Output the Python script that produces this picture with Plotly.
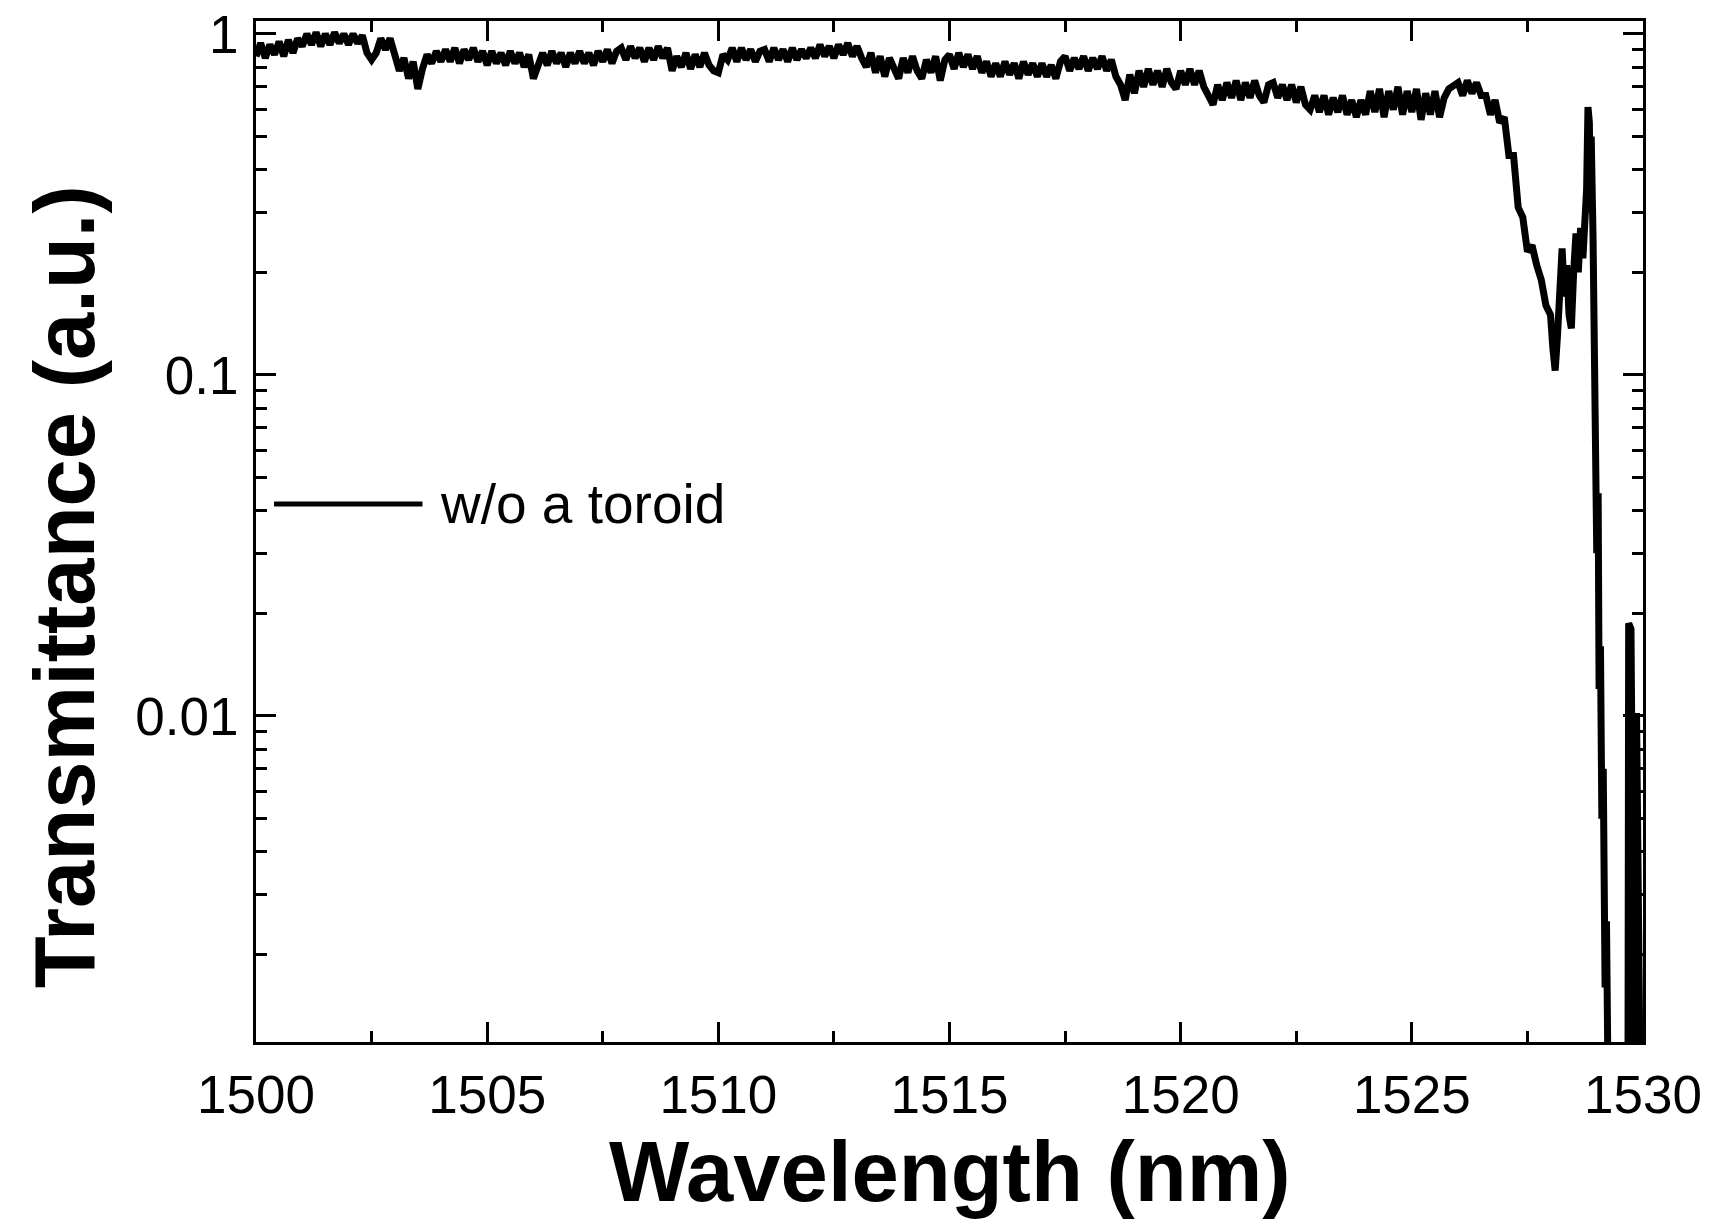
import plotly.graph_objects as go

FONT = "Liberation Sans, Arial, sans-serif"

# Transmittance vs wavelength (w/o a toroid)
wl_start = 1500.0
wl_step = 0.1
t_main = [
    # 1500.0 - 1500.9
    0.86, 0.94, 0.85, 0.93, 0.87, 0.95, 0.86, 0.96, 0.88, 0.97,
    # 1501
    0.92, 1.00, 0.93, 1.01, 0.92, 1.00, 0.93, 1.01, 0.94, 1.00,
    # 1502
    0.93, 1.00, 0.94, 0.99, 0.88, 0.84, 0.88, 0.97, 0.90, 0.97,
    # 1503
    0.87, 0.78, 0.85, 0.74, 0.83, 0.69, 0.79, 0.87, 0.82, 0.89,
    # 1504
    0.83, 0.90, 0.83, 0.91, 0.82, 0.90, 0.84, 0.91, 0.83, 0.89,
    # 1505
    0.81, 0.89, 0.82, 0.88, 0.81, 0.89, 0.82, 0.88, 0.80, 0.87,
    # 1506
    0.74, 0.82, 0.88, 0.81, 0.89, 0.82, 0.88, 0.80, 0.88, 0.82,
    # 1507
    0.89, 0.82, 0.88, 0.81, 0.89, 0.83, 0.90, 0.82, 0.89, 0.91,
    # 1508
    0.84, 0.92, 0.85, 0.91, 0.83, 0.91, 0.84, 0.92, 0.85, 0.91,
    # 1509
    0.78, 0.86, 0.80, 0.88, 0.79, 0.87, 0.80, 0.88, 0.81, 0.78,
    # 1510
    0.77, 0.87, 0.84, 0.91, 0.83, 0.91, 0.84, 0.90, 0.83, 0.89,
    # 1511
    0.90, 0.83, 0.91, 0.84, 0.90, 0.83, 0.91, 0.84, 0.90, 0.85,
    # 1512
    0.91, 0.85, 0.93, 0.86, 0.92, 0.85, 0.93, 0.87, 0.94, 0.86,
    # 1513
    0.92, 0.85, 0.80, 0.88, 0.77, 0.86, 0.75, 0.85, 0.78, 0.74,
    # 1514
    0.85, 0.77, 0.86, 0.78, 0.74, 0.84, 0.77, 0.86, 0.73, 0.84,
    # 1515
    0.87, 0.79, 0.88, 0.80, 0.87, 0.79, 0.86, 0.77, 0.83, 0.75,
    # 1516
    0.82, 0.75, 0.83, 0.76, 0.82, 0.74, 0.83, 0.76, 0.82, 0.75,
    # 1517
    0.82, 0.75, 0.81, 0.74, 0.83, 0.86, 0.78, 0.85, 0.79, 0.86,
    # 1518
    0.78, 0.85, 0.79, 0.86, 0.78, 0.84, 0.75, 0.71, 0.64, 0.76,
    # 1519
    0.67, 0.78, 0.70, 0.79, 0.71, 0.78, 0.70, 0.79, 0.72, 0.69,
    # 1520
    0.78, 0.71, 0.79, 0.71, 0.78, 0.70, 0.66, 0.62, 0.71, 0.64,
    # 1521
    0.72, 0.65, 0.73, 0.64, 0.72, 0.65, 0.73, 0.66, 0.63, 0.71,
    # 1522
    0.72, 0.65, 0.71, 0.64, 0.71, 0.63, 0.70, 0.62, 0.60, 0.66,
    # 1523
    0.59, 0.66, 0.58, 0.65, 0.59, 0.66, 0.58, 0.64, 0.57, 0.64,
    # 1524
    0.58, 0.68, 0.59, 0.69, 0.57, 0.68, 0.60, 0.70, 0.58, 0.68,
    # 1525
    0.59, 0.69, 0.56, 0.67, 0.58, 0.68, 0.57, 0.65, 0.69, 0.71,
    # 1526
    0.72, 0.66, 0.73, 0.67, 0.72, 0.66, 0.66, 0.58, 0.64, 0.55,
    # 1527
    0.57, 0.44, 0.44, 0.31, 0.29, 0.23, 0.24, 0.21, 0.19, 0.16,
]

# Resonance region at the red edge (irregular sampling)
wl_tail = [1528.00, 1528.05, 1528.10, 1528.15, 1528.20, 1528.25, 1528.30,
           1528.35, 1528.40, 1528.45, 1528.50, 1528.55, 1528.60, 1528.65,
           1528.70, 1528.75, 1528.78, 1528.81, 1528.84, 1528.86, 1528.88,
           1528.92, 1528.94, 1528.97, 1529.00, 1529.03, 1529.05, 1529.08,
           1529.11, 1529.14, 1529.18, 1529.21, 1529.26, 1529.45,
           1529.67, 1529.69, 1529.74, 1529.77, 1529.84, 1529.86, 1529.88,
           1529.97]
t_tail = [0.15, 0.12, 0.103, 0.13, 0.20, 0.235, 0.17,
          0.21, 0.15, 0.137, 0.20, 0.26, 0.20, 0.27,
          0.22, 0.28, 0.35, 0.61, 0.55, 0.30, 0.50,
          0.25, 0.10, 0.14, 0.03, 0.045, 0.012, 0.016,
          0.005, 0.007, 0.0016, 0.0025, 0.0005, 0.0003,
          0.0003, 0.0187, 0.018, 0.0003, 0.0003, 0.0102, 0.0003,
          0.0003]

wl_main = [round(wl_start + i * wl_step, 2) for i in range(len(t_main))]
wavelength = wl_main + wl_tail
transmittance = t_main + t_tail

legend_label = "w/o a toroid"
x_title = "Wavelength (nm)"
y_title = "Transmittance (a.u.)"
y_major = [0.01, 0.1, 1]
y_major_text = ["0.01", "0.1", "1"]
y_minor = [0.002, 0.003, 0.004, 0.005, 0.006, 0.007, 0.008, 0.009,
           0.02, 0.03, 0.04, 0.05, 0.06, 0.07, 0.08, 0.09,
           0.2, 0.3, 0.4, 0.5, 0.6, 0.7, 0.8, 0.9]

fig = go.Figure()
fig.add_trace(go.Scatter(
    x=wavelength, y=transmittance, mode="lines", name=legend_label,
    line=dict(color="black", width=7), showlegend=False,
))

# manual legend (long line sample + label)
fig.add_shape(type="line", xref="paper", yref="paper",
              x0=0.013, x1=0.12, y0=0.527, y1=0.527,
              line=dict(color="black", width=5))
fig.add_annotation(xref="paper", yref="paper", x=0.131, y=0.527,
                   text=legend_label, showarrow=False, xanchor="left",
                   yanchor="middle", font=dict(family=FONT, size=55, color="black"))

# axis titles placed as in the reference
fig.add_annotation(xref="paper", yref="paper", x=0.5, y=-0.127,
                   text="<b>" + x_title + "</b>", showarrow=False,
                   xanchor="center", yanchor="middle",
                   font=dict(family=FONT, size=85, color="black"))
fig.add_annotation(xref="paper", yref="paper", x=-0.138, y=0.446,
                   text="<b>" + y_title + "</b>", showarrow=False, textangle=-90,
                   xanchor="center", yanchor="middle",
                   font=dict(family=FONT, size=85, color="black"))

fig.update_layout(
    width=1715, height=1219,
    margin=dict(l=248, r=80, t=13, b=185, autoexpand=False),
    paper_bgcolor="white", plot_bgcolor="white",
    font=dict(family=FONT, color="black"),
)

fig.update_xaxes(
    range=[1500, 1530], dtick=5, tick0=1500, automargin=False,
    showgrid=False, zeroline=False,
    showline=True, linecolor="black", linewidth=3, mirror="allticks",
    ticks="inside", ticklen=20, tickwidth=3, tickcolor="black",
    minor=dict(ticks="inside", ticklen=11, tickwidth=3, tickcolor="black",
               dtick=2.5, tick0=1500, showgrid=False),
    tickfont=dict(family=FONT, size=53, color="black"),
    ticklabelstandoff=4, ticklabeloverflow="allow",
)

fig.update_yaxes(
    type="log", range=[-2.956, 0.038], automargin=False,
    tickmode="array", tickvals=y_major, ticktext=y_major_text,
    showgrid=False, zeroline=False,
    showline=True, linecolor="black", linewidth=3, mirror="allticks",
    ticks="inside", ticklen=20, tickwidth=3, tickcolor="black",
    minor=dict(ticks="inside", ticklen=11, tickwidth=3, tickcolor="black",
               tickvals=y_minor, showgrid=False),
    tickfont=dict(family=FONT, size=53, color="black"),
    ticklabelstandoff=4, ticklabeloverflow="allow",
)

fig.write_html("out.html")
